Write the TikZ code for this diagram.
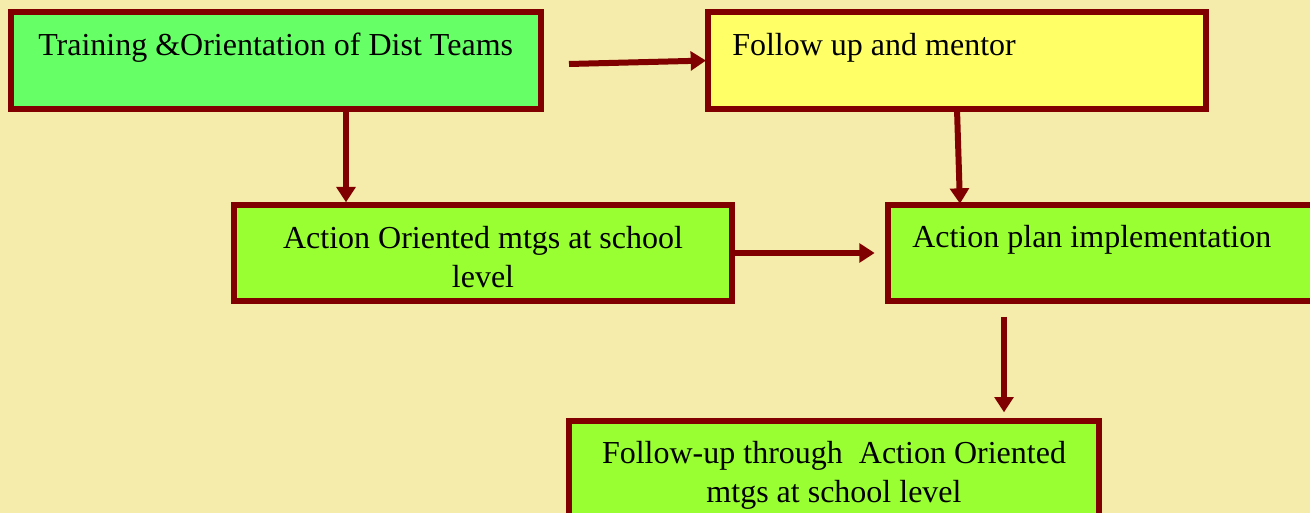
\documentclass[tikz,border=0pt]{standalone}
\usepackage{fontspec}
\setmainfont{Liberation Serif}
\usetikzlibrary{arrows.meta,positioning}
\definecolor{bgtan}{RGB}{245,235,170}
\definecolor{edgered}{RGB}{128,0,0}
\definecolor{mintgreen}{RGB}{102,255,102}
\definecolor{lemon}{RGB}{255,255,102}
\definecolor{limegreen}{RGB}{153,255,51}

\begin{document}
\begin{tikzpicture}[x=0.75pt,y=-0.75pt,>={Triangle[length=11.5pt,width=14pt]},
  every node/.append style={font=\fontsize{24pt}{29pt}\selectfont, inner sep=0pt},
  blk/.style={draw=edgered, line width=4.5pt, outer sep=0pt, anchor=north west},
  lbl/.style={anchor=base west},
  lblc/.style={anchor=base, align=center},
  arr/.style={->, draw=edgered, line width=4.5pt}]
  \useasboundingbox (0,0) rectangle (1310,513);
  \fill[bgtan] (0,0) rectangle (1310,513);
  % boxes
  \node [blk, fill=mintgreen, minimum width=397.5pt, minimum height=72.75pt] (train) at (11,12) {};
  \node [blk, fill=lemon, minimum width=373.5pt, minimum height=72.75pt] (follow) at (708,12) {};
  \node [blk, fill=limegreen, minimum width=373.5pt, minimum height=72pt] (action) at (234,205) {};
  \node [blk, fill=limegreen, minimum width=337.5pt, minimum height=72pt] (plan) at (888,205) {};
  \node [blk, fill=limegreen, minimum width=397.5pt, minimum height=75pt] (followup) at (569,421) {};
  % texts (base anchor of two-line texts = last line)
  \node [lbl] (train-txt) at ([shift={(27,44)}]train.north west) {Training \&Orientation of Dist Teams};
  \node [lbl] (follow-txt) at ([shift={(24,44)}]follow.north west) {Follow up and mentor};
  \node [lblc] (action-txt) at ([shift={(0,82)}]action.north) {Action Oriented mtgs at school\\level};
  \node [lbl] (plan-txt) at ([shift={(24,43)}]plan.north west) {Action plan implementation};
  \node [lblc] (followup-txt) at ([shift={(0,81)}]followup.north) {Follow-up through~ Action Oriented\\mtgs at school level};
  % arrows
  \coordinate (c1) at (569,64);
  \coordinate (c2) at (346,0);
  \coordinate (c3) at (960,205);
  \coordinate (c5) at (1004,317);
  \draw [arr, shorten >=1.5pt] (c1) -- (follow.west);
  \draw [arr, shorten >=2pt] (train.south -| c2) -- (action.north -| c2);
  \draw [arr, shorten >=1pt] (follow.south) -- (c3);
  \draw [arr, shorten >=10pt] (action.east) -- (plan.west);
  \draw [arr, shorten >=6.5pt] (c5) -- (c5 |- followup.north);
\end{tikzpicture}
\end{document}
